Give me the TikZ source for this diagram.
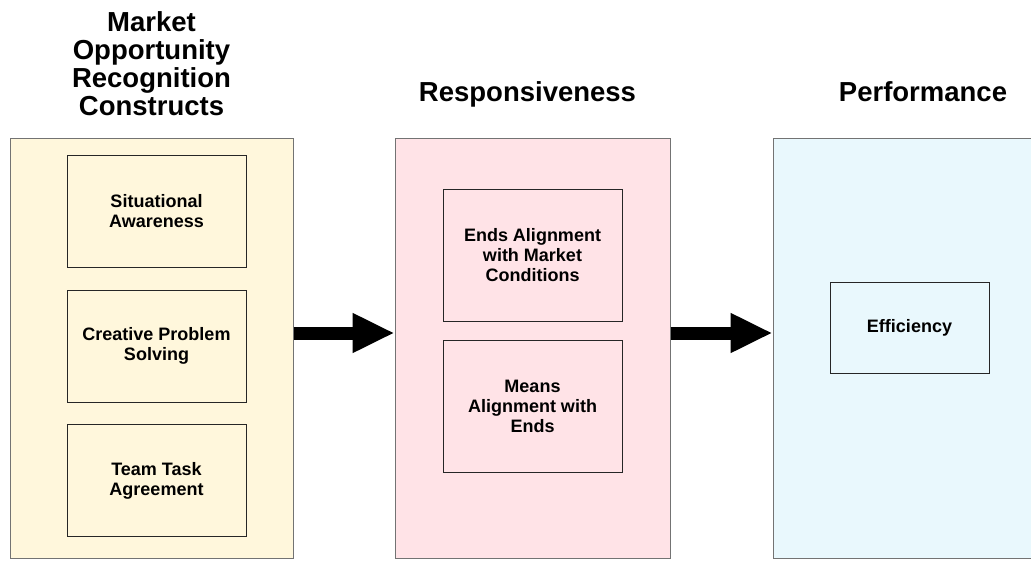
\documentclass[tikz,border=0pt]{standalone}
\usepackage{fontspec}
\setmainfont{Liberation Sans}
\usetikzlibrary{arrows.meta}
\definecolor{panelyellow}{RGB}{255,247,220}
\definecolor{panelpink}{RGB}{255,227,231}
\definecolor{panelblue}{RGB}{233,248,253}
\tikzset{
  panel/.style={draw=black!55,line width=1pt,minimum height=420pt,inner sep=0pt},
  item/.style={draw=black!85,line width=1pt,minimum width=179pt,align=center,inner sep=0pt,font=\bfseries\fontsize{18}{20}\selectfont},
  heading/.style={align=center,font=\bfseries\fontsize{27.5}{28}\selectfont},
  flow/.style={line width=13pt,-{Triangle[length=42pt,width=37pt]}}
}
\begin{document}
\begin{tikzpicture}[x=1pt,y=-1pt]
\useasboundingbox (0,0) rectangle (1031,560);
% three columns
\node[panel,fill=panelyellow,minimum width=283pt] (mor) at (151.5,348) {};
\node[panel,fill=panelpink,minimum width=275pt] (resp) at (532.5,348) {};
\node[panel,fill=panelblue,minimum width=275pt] (perf) at (910.5,348) {};
% headings
\node[heading] (morhead) at (151.5,64) {Market\\Opportunity\\Recognition\\Constructs};
\node[heading,anchor=base] (resphead) at (527.5,101) {Responsiveness};
\node[heading,anchor=base] (perfhead) at (923,101) {Performance};
% constructs
\foreach \y/\name/\txt in {211/sa/Situational\\Awareness,346/cps/Creative Problem\\Solving,480.5/tta/Team Task\\Agreement}{
  \node[item,minimum height=112pt] (\name) at (156.5,\y) {\txt};
}
\node[item,minimum height=132pt] (ends) at (532.5,255) {Ends Alignment\\with Market\\Conditions};
\node[item,minimum height=132pt] (means) at (532.5,406) {Means\\Alignment with\\Ends};
\node[item,minimum width=159pt,minimum height=91pt] (eff) at (909.5,327.5) {Efficiency};
% arrows
\draw[flow] ([yshift=15pt]mor.east) -- ([yshift=15pt]resp.west);
\draw[flow] ([yshift=15pt]resp.east) -- ([yshift=15pt]perf.west);
\end{tikzpicture}
\end{document}
